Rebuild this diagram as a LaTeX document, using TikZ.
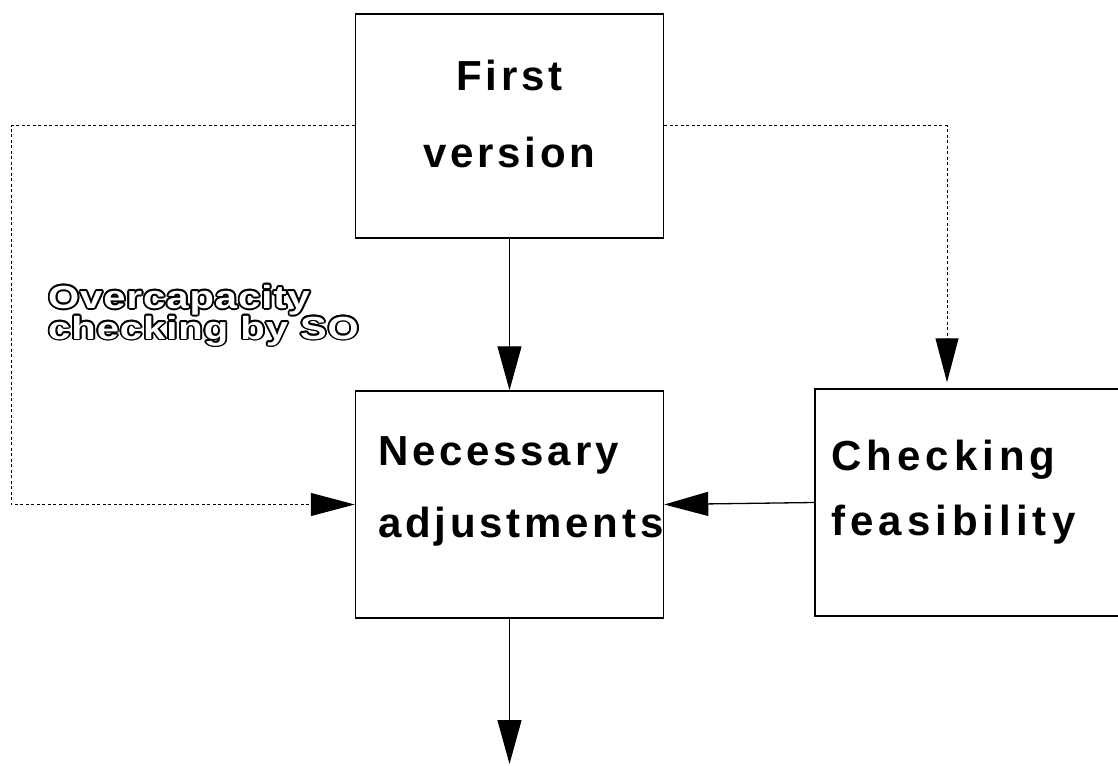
\documentclass[tikz,border=0pt]{standalone}
\usepackage{fontspec}
\usetikzlibrary{arrows.meta,calc}
\setmainfont{Liberation Sans}
% bold, tracked faces for the box captions
\newfontfamily\boxfont{Liberation Sans}[LetterSpace=9]
\newfontfamily\wideboxfont{Liberation Sans}[LetterSpace=12]
% wide face for the hollow side label
\newfontfamily\tagfont{Liberation Sans}[FakeStretch=1.25,LetterSpace=3]

\begin{document}
\begin{tikzpicture}[x=1pt,y=-1pt,
  box/.style={draw, line width=1.5pt, minimum width=308pt, inner sep=0pt},
  boxtext/.style={font=\boxfont\bfseries\fontsize{42}{#1}\selectfont, align=left, inner sep=0pt},
  tagtext/.style={font=\tagfont\bfseries\fontsize{32}{29}\selectfont, align=left, inner sep=0pt, anchor=base west},
  conn/.style={line width=1.3pt, -{Triangle[length=44pt,width=24pt]}},
  dots/.style={line width=1pt, dash pattern=on 3pt off 2.5pt, -{Triangle[length=44pt,width=23pt]}}]

  \useasboundingbox (0,0) rectangle (1118,765);
  \clip (0,0) rectangle (1118,765);

  % boxes
  \node[box, minimum height=224pt] (fv) at (509.5,126) {};
  \node[box, minimum height=227pt] (na) at (509.5,504.5) {};
  \node[box, minimum height=227pt] (chk) at (969,502.5) {};

  % captions (anchored on the baseline of their last line)
  \node[boxtext=77, align=center, anchor=base] (fvt) at (509.5,167) {First\\version};
  \node[boxtext=72, anchor=base west] (nat) at (378,537) {Necessary\\adjustments};
  \node[boxtext=65, font=\wideboxfont\bfseries\fontsize{42}{65}\selectfont, anchor=base west] (chkt) at (831,535) {Checking\\feasibility};

  % hollow label: black halo, white letters on top
  \foreach \a in {0,30,...,330}
    \node[tagtext, text=black] (tag-\a) at ($(48,339)+(\a:1.9)$) {Overcapacity\\checking by SO};
  \node[tagtext, text=white] (tag) at (48,339) {Overcapacity\\checking by SO};

  % connectors
  \coordinate (lc) at (11,126);
  \coordinate (rc) at (947,126);
  \coordinate (out) at (509.5,764);
  \draw[dots] (fv.west) -- (lc) |- (na.west);
  \draw[dots, shorten >=6pt] (fv.east) -- (rc) -- (rc |- chk.north);
  \draw[conn] (fv.south) -- (na.north);
  \draw[conn] (chk.west) -- (na.east);
  \draw[conn] (na.south) -- (out);
\end{tikzpicture}
\end{document}
